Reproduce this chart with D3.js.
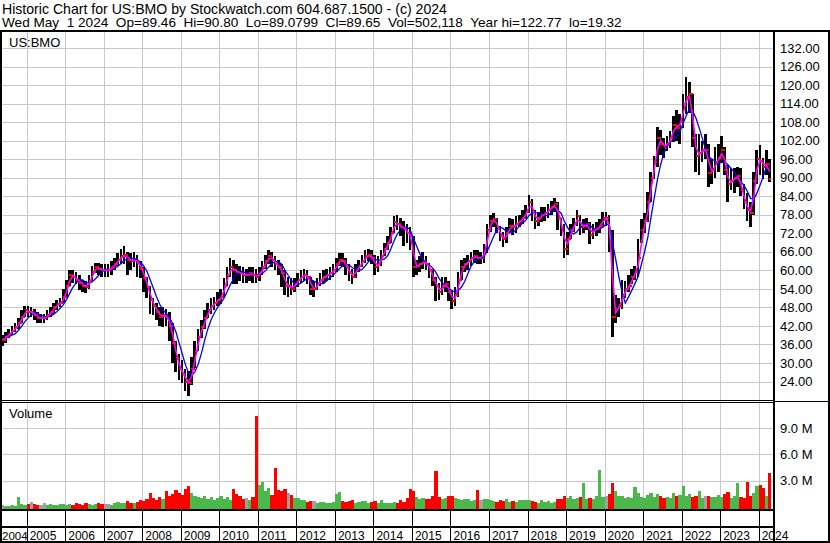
<!DOCTYPE html>
<html>
<head>
<meta charset="utf-8">
<script src="https://cdn.jsdelivr.net/npm/d3@7"></script>
<style>
  body { margin: 0; background: #fff; }
  svg { display: block; font-family: Arial, "Liberation Sans", sans-serif; }
</style>
</head>
<body>
<svg id="chart" width="830" height="543"></svg>
<script>

// monthly bars, May 2004 .. Apr 2024
var firstMonth = new Date(2004, 4, 1);

var close = [
  37.5, 38.5, 39.5, 40.5, 41.5, 43, 45, 47,
  46.5, 46.5, 45.5, 44.5, 44.5, 44.5, 45.5, 46.5, 48, 49, 49.5, 51.5,
  55, 58.5, 58, 57, 56, 55, 54.5, 56.5, 59.5, 61, 60.5, 60,
  60, 60, 61, 62, 63.5, 64.5, 65, 63.5, 63, 63.5, 62.5, 60.5,
  57.5, 54.5, 50.5, 48.5, 46.5, 45, 45.5, 45, 42, 36.5, 31.5, 28,
  26.5, 24, 23.5, 28, 34, 38.5, 41.5, 44.5, 47, 48.5, 49.5, 50.5,
  51.5, 55, 58.5, 61, 60, 59.5, 59, 58.5, 58.5, 59, 58.5, 58,
  59, 61, 63, 64.5, 63.5, 62, 61, 59, 55, 55, 54, 55.5,
  57, 58, 58.5, 58, 54, 54, 55.5, 57, 58, 58.5, 59, 60,
  62, 63.5, 63, 61, 59, 58, 60, 61.5, 63, 64.5, 65, 64,
  61, 62, 64.5, 67, 69, 72, 75.5, 75, 74, 73.5, 72, 71,
  61, 61.5, 62, 63, 62, 60, 57, 55, 53, 55, 55.5, 53,
  50, 52, 57, 61, 62, 63, 64, 64.5, 64, 64, 66, 73,
  76, 76.5, 74, 71, 70, 72, 74.5, 74, 75, 76, 77, 79,
  82, 79, 76, 77, 78, 78.5, 79.5, 80.5, 81.5, 77, 74, 67,
  70, 73, 75, 77.5, 74, 74.5, 75, 71.5, 73, 73.5, 74.5, 77,
  77, 72, 45, 47.5, 48.5, 52, 54, 55, 58, 59.5, 64, 73,
  76, 82, 90, 95, 103, 101, 100, 101, 103, 107, 106, 108,
  114, 116, 117, 103, 97, 98, 99, 99, 91.5, 92.5, 95, 96.5,
  99, 92.5, 88, 89, 90, 90.5, 86, 82, 79.5, 78.5, 89, 96,
  95.5, 93.5, 94.5, 89.5
];

var high = [
  39, 40, 41, 42, 43, 44.5, 47, 48.5,
  48.5, 48, 47.5, 46.5, 46, 46, 47, 48, 49.5, 50.5, 51, 54,
  57, 60, 60, 59.5, 58.5, 57, 56.5, 58.5, 61.5, 62.5, 62.5, 62,
  62, 62, 63, 64, 65.5, 67, 68, 66, 65.5, 66, 65, 63,
  61, 58, 55, 51, 49.5, 48, 48, 47.5, 46.5, 43, 37, 33,
  31, 28, 27.5, 32, 37, 41, 44, 47, 49.5, 51, 51.5, 53,
  54, 57.5, 61, 64, 63.5, 62, 61.5, 61, 60.5, 61, 61, 60.5,
  61, 63, 65, 66.5, 66, 64.5, 63.5, 62, 60, 58, 57.5, 57.5,
  59, 60, 60.5, 60, 58, 56.5, 57.5, 59, 60, 60.5, 61, 62,
  64, 65.5, 65.5, 64, 62, 60.5, 62, 63.5, 65, 66.5, 67, 66.5,
  65, 64.5, 66.5, 69, 71, 74, 77.5, 78, 77, 76, 75, 74,
  71, 63.5, 64.5, 66, 64.5, 62.5, 60.5, 58, 56, 58, 58, 56.5,
  53.5, 54.5, 59.5, 63.5, 64, 65, 66, 66.5, 66.5, 66, 68.5, 75,
  78, 78.5, 77, 74.5, 72.5, 74, 77, 76.5, 77.5, 78, 79.5, 81,
  84.5, 83, 79.5, 79, 80.5, 80.5, 81.5, 82.5, 83.5, 82, 77, 75,
  72.5, 75, 77, 79.5, 78, 76.5, 77, 75.5, 75, 75.5, 76.5, 79,
  79, 78, 73, 52, 51, 57, 56.5, 58.5, 60.5, 61.5, 70, 76.5,
  78.5, 85.5, 92, 97, 106.5, 105.5, 103, 103.5, 105, 110, 112, 110.5,
  117, 122.7, 121, 117, 104, 104, 102, 104, 101, 96, 100, 101,
  103.5, 100, 94, 93, 93, 93.5, 93, 88, 85, 82, 92, 99,
  100.5, 96.5, 99, 96
];

var low = [
  35.5, 36.5, 38, 39, 40, 41, 43, 45,
  45, 45, 44, 43, 43, 43, 44, 45, 46, 47, 48, 49.5,
  51, 55, 56, 55.5, 53.5, 53, 52.5, 54, 56.5, 59, 58.5, 58,
  58, 58, 58.5, 60, 61.5, 62, 62, 58.5, 60, 61, 58, 57.5,
  53, 51, 46, 45.5, 44, 42, 41.5, 42, 37, 30, 27, 24.5,
  23.5, 21, 19.3, 23, 28.5, 34, 38, 41, 44.5, 46, 47, 48.5,
  49, 51, 55, 58, 55.5, 55.5, 56.5, 56, 56, 56.5, 56, 56,
  56.5, 58.5, 60.5, 62, 61, 60, 58.5, 54.5, 52, 51.5, 52, 53,
  54.5, 56, 56.5, 55.5, 52, 51.5, 53.5, 55, 56, 56.5, 57, 58,
  59.5, 61.5, 61, 58.5, 56.5, 55.5, 57.5, 59.5, 61, 62.5, 63, 62,
  58.5, 59.5, 61.5, 64.5, 66.5, 69, 72, 73, 71, 68, 69, 66.5,
  58, 58.5, 59.5, 60.5, 60, 57.5, 55, 50, 50.5, 52, 53, 50,
  47.5, 48.5, 51.5, 57, 59.5, 60, 61.5, 62.5, 62, 62, 62.5, 65.5,
  72.5, 74, 72, 69.5, 67.5, 69, 72, 71.5, 72, 74, 75, 76.5,
  78.5, 76, 73.5, 74.5, 75.5, 76, 77, 78, 79, 73, 71, 64,
  65, 70, 72.5, 74.5, 71.5, 72, 73, 68.5, 70, 71, 72, 74.5,
  74.5, 66, 38.4, 43, 45, 47.5, 51, 53, 55.5, 57, 58, 69,
  72, 75.5, 82, 89.5, 93.5, 97.5, 96.5, 98.5, 99.5, 101.5, 102, 101,
  106, 110.5, 111, 100, 92, 91, 95, 96, 87, 88, 90, 92,
  95, 91, 82, 86, 85, 87, 84, 80, 76, 74, 78, 88,
  91, 89.5, 91, 88.5
];

// volume in millions of shares
var volume = [
  0.2, 0.15, 0.1, 0.2, 0.15, 1.1, 0.3, 0.2,
  0.3, 0.6, 0.3, 0.2, 0.2, 0.4, 0.2, 0.3, 0.2, 0.2, 0.3, 0.3,
  0.2, 0.3, 0.2, 0.4, 0.3, 0.2, 0.4, 0.3, 0.2, 0.3, 0.4, 0.3,
  0.3, 0.3, 0.2, 0.4, 0.6, 0.5, 0.5, 0.7, 0.5, 0.4, 0.6, 0.8,
  0.7, 0.9, 1.6, 1.0, 0.8, 1.1, 0.9, 1.8, 1.2, 1.5, 1.9, 1.6,
  1.4, 2.0, 2.4, 1.6, 1.3, 1.1, 1.0, 1.3, 0.9, 1.1, 0.8, 1.0,
  1.2, 0.9, 1.1, 0.8, 2.0, 1.5, 1.2, 0.9, 1.0, 0.8, 1.1, 10.4,
  2.5, 2.9, 1.8, 2.2, 1.4, 4.4, 1.9, 1.8, 2.0, 1.6, 1.4, 1.0,
  1.0, 0.8, 0.8, 0.6, 0.7, 0.7, 0.5, 0.6, 0.6, 0.5, 0.5, 0.6,
  1.5, 1.7, 0.7, 0.6, 0.7, 0.8, 0.5, 0.6, 0.7, 0.7, 0.5, 0.6,
  0.7, 0.5, 0.8, 0.5, 0.5, 0.5, 0.6, 0.5, 0.8, 0.6, 1.0, 2.1,
  1.8, 1.1, 0.9, 1.0, 0.9, 0.9, 1.2, 4.1, 1.1, 0.9, 1.0, 1.3,
  1.2, 1.0, 0.9, 0.8, 0.9, 0.9, 0.7, 0.8, 1.9, 0.8, 0.9, 0.9,
  0.8, 0.7, 0.6, 0.8, 0.7, 0.9, 0.6, 0.7, 0.6, 0.8, 0.8, 0.8,
  0.8, 0.7, 0.6, 0.5, 0.8, 0.6, 0.7, 0.5, 0.6, 0.9, 0.9, 1.2,
  1.0, 1.2, 0.9, 1.0, 1.1, 2.7, 0.9, 1.0, 0.9, 1.3, 4.2, 1.1,
  1.2, 1.5, 2.7, 1.8, 1.3, 1.2, 1.0, 1.1, 1.0, 2.3, 1.6, 1.1,
  1.0, 1.4, 1.6, 1.1, 1.5, 1.3, 1.0, 1.1, 1.0, 1.6, 1.2, 1.4,
  2.4, 1.3, 1.5, 1.1, 1.2, 1.8, 1.0, 1.2, 1.3, 1.1, 1.1, 1.4,
  1.1, 1.5, 1.7, 1.0, 1.2, 2.7, 1.1, 1.0, 2.9, 1.2, 1.6, 2.4,
  2.5, 2.2, 1.3, 3.9
];

var priceTicks = [24, 30, 36, 42, 48, 54, 60, 66, 72, 78, 84, 90, 96, 102, 108, 114, 120, 126, 132];
var volumeTicks = [3, 6, 9];
var yearLabels = ["2004", "2005", "2006", "2007", "2008", "2009", "2010", "2011", "2012", "2013", "2014",
  "2015", "2016", "2017", "2018", "2019", "2020", "2021", "2022", "2023", "2024"];

var headerLine1 = "Historic Chart for US:BMO by Stockwatch.com 604.687.1500 - (c) 2024";
var headerLine2 = "Wed May  1 2024  Op=89.46  Hi=90.80  Lo=89.0799  Cl=89.65  Vol=502,118  Year hi=122.77  lo=19.32";


// layout
var svg = d3.select("#chart");
var plotRight = 773;
var priceTop = 32, priceBottom = 400;
var volTop = 402, volBottom = 509;

var x = d3.scaleTime()
  .domain([new Date(2005, 0, 1), new Date(2024, 0, 1)])
  .range([26.7, 758.7]);

var y = d3.scaleLinear().domain([24, 132]).range([381.5, 48]);
var yv = d3.scaleLinear().domain([0, 9]).range([507, 428]);

var months = d3.timeMonth.range(firstMonth, new Date(2024, 4, 1));
var bars = months.map(function (d, i) {
  return {
    date: d,
    x0: x(d),
    x1: x(d3.timeMonth.offset(d, 1)),
    xm: x(new Date(d.getFullYear(), d.getMonth(), 15)),
    close: close[i],
    high: high[i],
    low: low[i],
    vol: volume[i],
    prev: i > 0 ? close[i - 1] : close[i]
  };
});

// moving averages from the closes
function movingAvg(n) {
  return bars.map(function (b, i) {
    var win = close.slice(Math.max(0, i - n + 1), i + 1);
    return [b.xm, y(d3.mean(win))];
  });
}

function px(v) { return Math.round(v) + 0.5; }

var grid = svg.append("g").attr("stroke", "#c8c8c8").attr("stroke-width", 1);

// horizontal grid, price panel
priceTicks.forEach(function (t) {
  grid.append("line")
    .attr("x1", 0).attr("x2", plotRight)
    .attr("y1", px(y(t))).attr("y2", px(y(t)));
});

// horizontal grid, volume panel
volumeTicks.forEach(function (t) {
  grid.append("line")
    .attr("x1", 0).attr("x2", plotRight)
    .attr("y1", px(yv(t))).attr("y2", px(yv(t)));
});

// vertical grid at year boundaries
var years = d3.timeYear.range(new Date(2005, 0, 1), new Date(2024, 0, 2));
years.forEach(function (d) {
  grid.append("line")
    .attr("x1", px(x(d))).attr("x2", px(x(d)))
    .attr("y1", priceTop).attr("y2", volBottom);
});


// price bars
var priceG = svg.append("g").attr("shape-rendering", "crispEdges");

bars.forEach(function (b) {
  priceG.append("rect")
    .attr("x", b.x0)
    .attr("y", y(b.high))
    .attr("width", Math.max(1, b.x1 - b.x0 - 0.6))
    .attr("height", y(b.low) - y(b.high))
    .attr("fill", "#000");

  // open and close ticks
  priceG.append("rect")
    .attr("x", b.x0)
    .attr("y", y(b.prev) - 1)
    .attr("width", 1.5)
    .attr("height", 2)
    .attr("fill", "#ff0000");

  priceG.append("rect")
    .attr("x", b.x1 - 2)
    .attr("y", y(b.close) - 1)
    .attr("width", 2)
    .attr("height", 2)
    .attr("fill", "#ff0000");
});

// moving average lines
svg.append("path")
  .attr("d", d3.line()(movingAvg(5)))
  .attr("fill", "none")
  .attr("stroke", "#0000ff")
  .attr("stroke-width", 1.3);

svg.append("path")
  .attr("d", d3.line()(movingAvg(2)))
  .attr("fill", "none")
  .attr("stroke", "#ff00ff")
  .attr("stroke-width", 1.6);


// volume bars
var volG = svg.append("g").attr("shape-rendering", "crispEdges");
bars.forEach(function (b) {
  var col = "#a0a0a0";
  if (b.close > b.prev) col = "#4cb84c";
  if (b.close < b.prev) col = "#ff0000";
  volG.append("rect")
    .attr("x", b.x0)
    .attr("y", yv(b.vol))
    .attr("width", b.x1 - b.x0)
    .attr("height", volBottom - yv(b.vol))
    .attr("fill", col);
});


// frame lines
var frame = svg.append("g").attr("stroke", "#000").attr("shape-rendering", "crispEdges");

function hline(x1, x2, yy, w) {
  frame.append("line").attr("x1", x1).attr("x2", x2).attr("y1", yy).attr("y2", yy).attr("stroke-width", w);
}
function vline(xx, y1, y2, w) {
  frame.append("line").attr("x1", xx).attr("x2", xx).attr("y1", y1).attr("y2", y2).attr("stroke-width", w);
}

hline(0, 830, 31, 2);
hline(0, plotRight, 400.5, 1);
hline(0, plotRight, 402.5, 1);
hline(plotRight, 830, 401.5, 1);
hline(0, plotRight, 510, 2);
hline(0, plotRight, 527, 2);
hline(0, 830, 542, 2);
vline(1, 31, 543, 2);
vline(plotRight + 1, 31, 543, 2);
vline(829, 31, 543, 2);

years.forEach(function (d) {
  vline(px(x(d)), 510, 542, 1);
});


// right hand axes
var priceAxis = svg.append("g")
  .attr("transform", "translate(776,0)")
  .call(d3.axisRight(y).tickValues(priceTicks).tickSize(0).tickPadding(4)
    .tickFormat(function (d) { return d.toFixed(2); }));

var volAxis = svg.append("g")
  .attr("transform", "translate(776,0)")
  .call(d3.axisRight(yv).tickValues(volumeTicks).tickSize(0).tickPadding(4)
    .tickFormat(function (d) { return d.toFixed(1) + " M"; }));

[priceAxis, volAxis].forEach(function (g) {
  g.select(".domain").remove();
  g.attr("font-family", null).attr("font-size", null);
  g.selectAll("text")
    .attr("font-size", "13px")
    .attr("fill", "#000");
});


// year labels
yearLabels.forEach(function (label, i) {
  var t = svg.append("text")
    .attr("y", 539.5)
    .attr("font-size", "12px")
    .attr("fill", "#000")
    .text(label);
  if (i === 0) {
    t.attr("x", 2).attr("font-size", "11.5px");
  } else {
    t.attr("x", x(new Date(2004 + i, 0, 1)) + 3);
  }
});


// header and panel titles
svg.append("text")
  .attr("x", 2).attr("y", 13.5)
  .attr("font-size", "14.1px")
  .text(headerLine1);

svg.append("text")
  .attr("x", 2).attr("y", 27)
  .attr("font-size", "13.6px")
  .style("white-space", "pre")
  .text(headerLine2);

svg.append("text")
  .attr("x", 9).attr("y", 46.5)
  .attr("font-size", "13px")
  .text("US:BMO");

svg.append("text")
  .attr("x", 9).attr("y", 418)
  .attr("font-size", "13px")
  .text("Volume");

</script>
</body>
</html>
